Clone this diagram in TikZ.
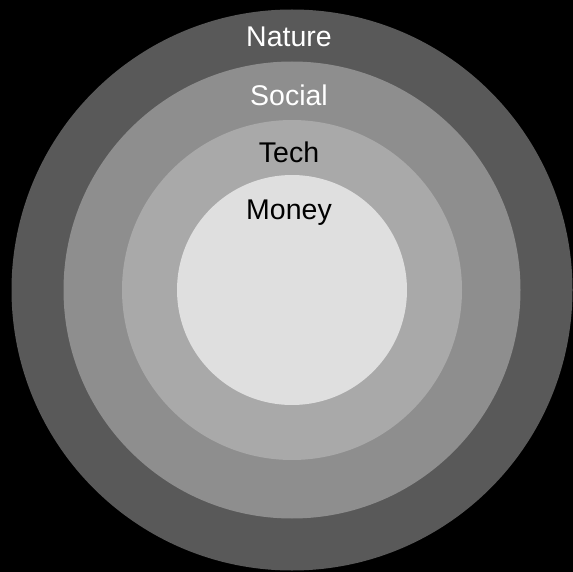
\documentclass[tikz,border=0pt]{standalone}
\usepackage{fontspec}
\setmainfont{Liberation Sans}
\definecolor{natureC}{HTML}{595959}
\definecolor{socialC}{HTML}{8E8E8E}
\definecolor{techC}{HTML}{A9A9A9}
\definecolor{moneyC}{HTML}{DFDFDF}

\begin{document}
\begin{tikzpicture}[x=1pt,y=-1pt,lbl/.style={anchor=base,font=\fontsize{28.5}{30}\selectfont}]
\fill[black] (0,0) rectangle (573,572);
\useasboundingbox (0,0) rectangle (573,572);
\coordinate (O) at (292,290);
\foreach \r/\c in {280.5/natureC,228.5/socialC,170/techC,115/moneyC}{\fill[\c] (O) circle[radius=\r pt];}
\node[lbl,text=white] (nature) at (289,46.7) {Nature};
\node[lbl,text=white] (social) at (289,106) {Social};
\node[lbl,text=black] (tech) at (289,163) {Tech};
\node[lbl,text=black] (money) at (289,220) {Money};
\end{tikzpicture}
\end{document}
